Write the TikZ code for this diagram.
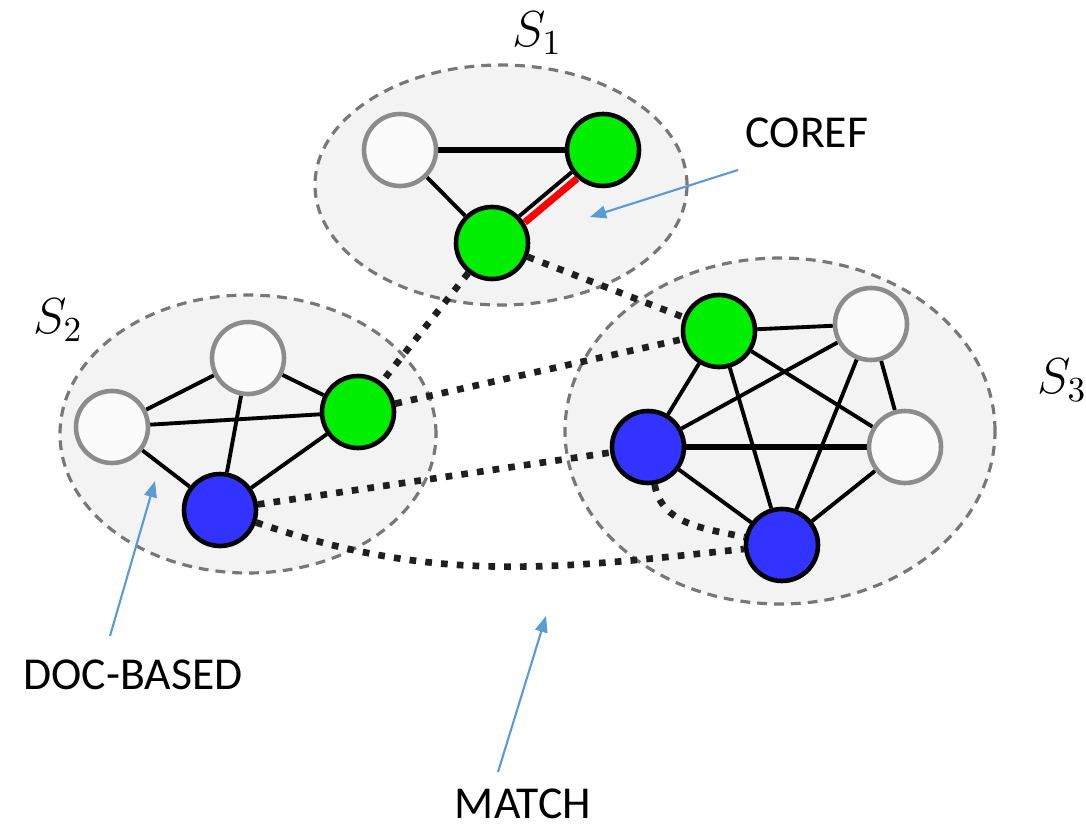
\documentclass[tikz,border=0pt]{standalone}
\usepackage{fontspec}
\setmainfont{Carlito}
\usetikzlibrary{arrows.meta,backgrounds}
\pgfdeclarelayer{edgelayer}
\pgfsetlayers{background,edgelayer,main}
\definecolor{setfill}{HTML}{F3F3F3}
\definecolor{setline}{HTML}{777777}
\definecolor{nodegreen}{HTML}{00EE00}
\definecolor{nodeblue}{HTML}{3333FF}
\definecolor{arrowblue}{HTML}{5B9BD5}
\begin{document}
\begin{tikzpicture}[
    mention/.style={circle, minimum size=0.72cm, inner sep=0pt, line width=1.3pt},
    plain/.style={mention, draw=gray!90, fill=white!97!gray},
    coref/.style={mention, draw=black, fill=nodegreen},
    other/.style={mention, draw=black, fill=nodeblue},
    link/.style={line width=1.1pt},
    strong/.style={line width=1.5pt},
    match/.style={line width=1.9pt, black!88, dash pattern=on 1.9pt off 2.6pt},
    cluster/.style={fill=setfill, draw=setline, line width=0.9pt, dash pattern=on 2.8pt off 2pt},
    callout/.style={arrowblue, line width=0.6pt, -{Triangle[length=4.6pt, width=3.6pt]}},
    tag/.style={font=\fontsize{13}{15}\selectfont},
    setname/.style={font=\fontsize{14}{16}\selectfont}
  ]
  \useasboundingbox (0,0) rectangle (10.86,-8.29);

  % sets
  \begin{pgfonlayer}{background}
    \draw[cluster] (5.01,-1.85) ellipse [x radius=1.86, y radius=1.20];
    \draw[cluster] (2.48,-4.34) ellipse [x radius=1.88, y radius=1.39];
    \draw[cluster] (7.80,-4.31) ellipse [x radius=2.15, y radius=1.73];
  \end{pgfonlayer}

  \node[setname] (s1) at (5.37,-0.33) {$S_1$};
  \node[setname] (s2) at (0.58,-3.20) {$S_2$};
  \node[setname] (s3) at (10.62,-3.80) {$S_3$};

  % mentions of S1
  \node[plain] (w1) at (4.00,-1.50) {};
  \node[coref] (g1a) at (6.03,-1.50) {};
  \node[coref] (g1b) at (4.92,-2.43) {};

  % mentions of S2
  \node[plain] (w2a) at (1.12,-4.27) {};
  \node[plain] (w2b) at (2.48,-3.58) {};
  \node[coref] (g2) at (3.58,-4.12) {};
  \node[other] (b2) at (2.20,-5.10) {};

  % mentions of S3
  \node[coref] (g3) at (7.19,-3.31) {};
  \node[plain] (w3a) at (8.71,-3.24) {};
  \node[plain] (w3b) at (9.05,-4.47) {};
  \node[other] (b3a) at (6.48,-4.47) {};
  \node[other] (b3b) at (7.82,-5.45) {};

  \begin{pgfonlayer}{edgelayer}
    % edges inside S1
    \draw[strong] (w1) -- (g1a);
    \draw[link] (w1) -- (g1b);
    \draw[link, transform canvas={shift={(-0.02,0.024)}}] (g1b) -- (g1a);
    \draw[red, line width=2pt, transform canvas={shift={(0.034,-0.04)}}] (g1b) -- (g1a);

    % edges inside S2
    \foreach \a/\b in {w2a/w2b, w2a/g2, w2a/b2, w2b/g2, w2b/b2, g2/b2}
      \draw[link] (\a) -- (\b);

    % edges inside S3
    \foreach \a/\b in {g3/w3a, g3/w3b, g3/b3a, g3/b3b, w3a/b3a, w3a/b3b,
                       w3a/w3b, w3b/b3b, b3a/b3b}
      \draw[link] (\a) -- (\b);
    \draw[strong] (b3a) -- (w3b);

    % match edges
    \draw[match] (g1b) -- (g2);
    \draw[match] (g1b) -- (g3);
    \draw[match] (g2) -- (g3);
    \draw[match] (b2) -- (b3a);
    \draw[match] (b2) to[out=-19, in=186] (b3b);
    \draw[match] (b3a) to[out=-80, in=168] (b3b);
  \end{pgfonlayer}

  % labels
  \node[tag] (corefname) at (8.07,-1.33) {COREF};
  \node[tag] (docname) at (1.33,-6.75) {DOC-BASED};
  \node[tag] (matchname) at (5.23,-8.04) {MATCH};

  \coordinate (corefend) at (7.38,-1.70);
  \coordinate (docend) at (1.10,-6.36);
  \coordinate (matchend) at (4.98,-7.72);

  \draw[callout] (corefend) -- (5.90,-2.17);
  \draw[callout] (docend) -- (1.55,-4.81);
  \draw[callout] (matchend) -- (5.46,-6.16);
\end{tikzpicture}
\end{document}
